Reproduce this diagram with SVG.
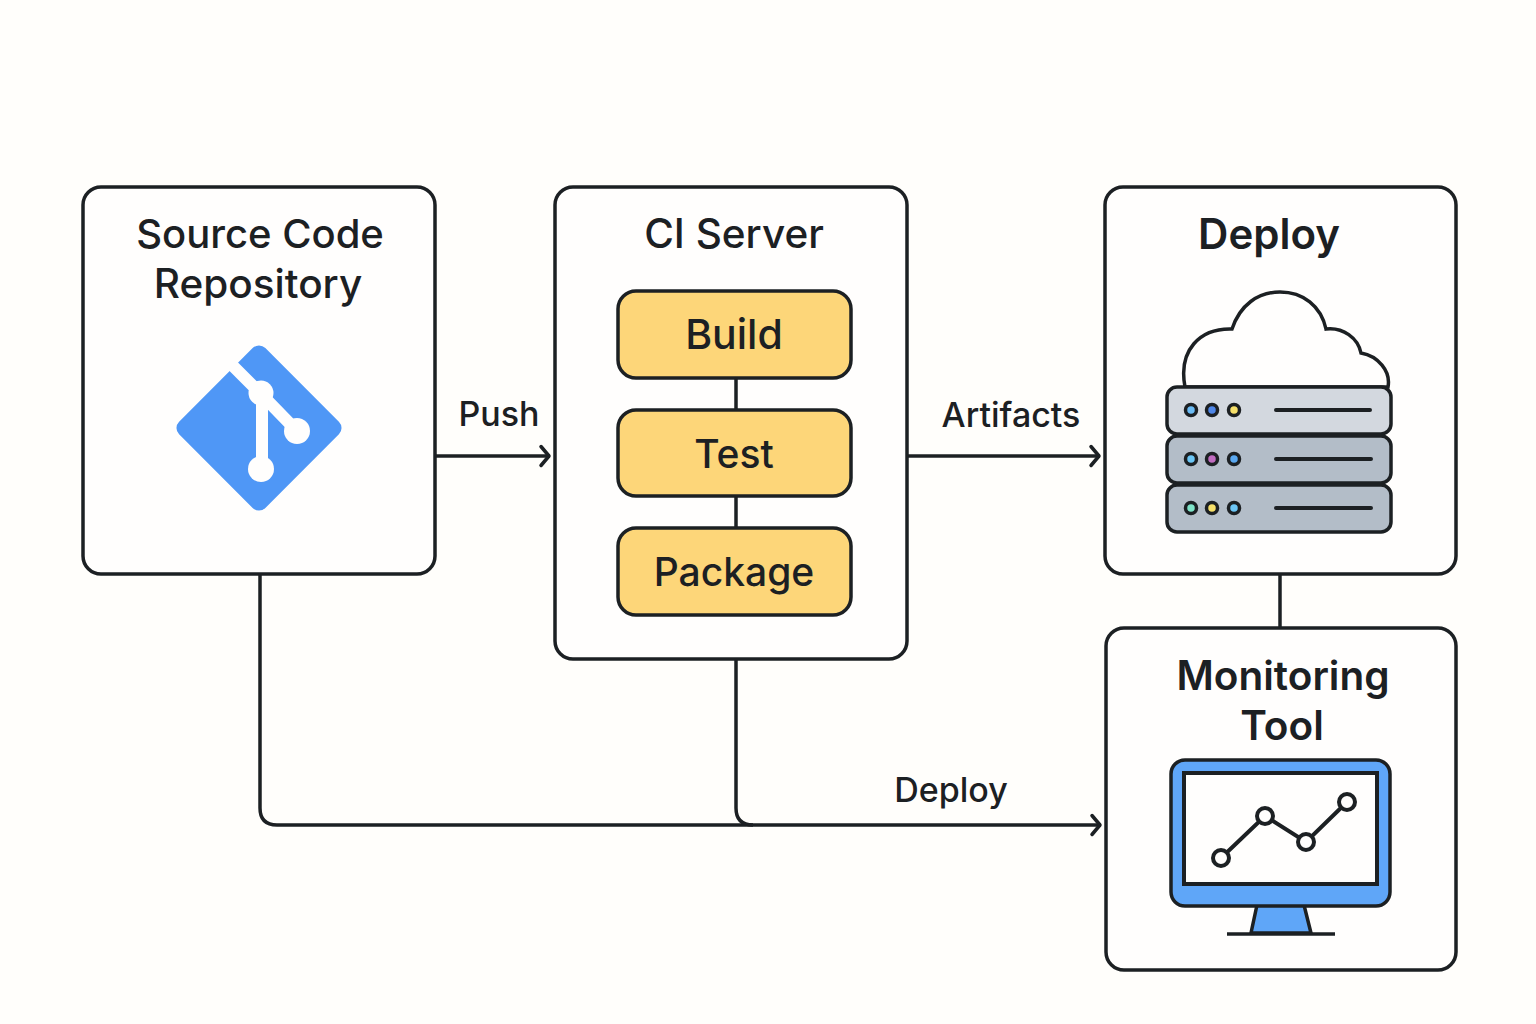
<svg xmlns="http://www.w3.org/2000/svg" width="1536" height="1024" viewBox="0 0 1536 1024">
<defs>
<marker id="arrow" markerUnits="userSpaceOnUse" markerWidth="20" markerHeight="24" refX="16" refY="12" orient="auto"><path d="M7 2.500L15 12L7 21.500" fill="none" stroke="#1c2023" stroke-width="3.500" stroke-linecap="round" stroke-linejoin="round"/></marker>
</defs>
<style>
text{font-family:"Inter","Liberation Sans",sans-serif;fill:#1c2023;text-anchor:middle;font-weight:500}
.t{font-size:40px}
.h{font-size:42px;font-weight:600}
.h2{font-size:40.500px;font-weight:600}
.s{font-size:39px}
.l{font-size:34px}
.box{fill:#fffefd;stroke:#1c2023;stroke-width:3.500}
.step{fill:#fdd679;stroke:#1c2023;stroke-width:3.500}
.c{fill:none;stroke:#1c2023;stroke-width:3.500}
.srv{stroke:#1c2023;stroke-width:3.500}
.bar{stroke:#1c2023;stroke-width:4;stroke-linecap:round}
.led{stroke:#1c2023;stroke-width:3.500}
.pt{fill:#fffefd;stroke:#1c2023;stroke-width:4}
</style>
<rect width="1536" height="1024" fill="#fffefb"/>
<g id="source-repo">
<rect class="box" x="83" y="187" width="352" height="387" rx="18"/>
<text class="t" x="260" y="248">Source Code</text>
<text class="t" x="258" y="298" style="font-size:40.500px">Repository</text>
<rect x="198" y="367" width="122" height="122" rx="9" transform="rotate(45 259 428)" fill="#4f97f6"/>
<path d="M233 366L262 395M262 395V470M262 395L297 431" fill="none" stroke="#fffefd" stroke-width="12"/>
<circle cx="261" cy="393" r="12.500" fill="#fffefd"/><circle cx="297" cy="431" r="13" fill="#fffefd"/><circle cx="261" cy="469" r="13" fill="#fffefd"/>
</g>
<g id="ci-server">
<rect class="box" x="555" y="187" width="352" height="472" rx="18"/>
<text class="t" x="734" y="248" style="font-size:40.500px">CI Server</text>
</g>
<g id="build"><rect class="step" x="618" y="291" width="233" height="87" rx="18"/><text class="s" x="734" y="349" style="font-size:41px">Build</text></g>
<g id="test"><rect class="step" x="618" y="410" width="233" height="86" rx="18"/><text class="s" x="734" y="468">Test</text></g>
<g id="package"><rect class="step" x="618" y="528" width="233" height="87" rx="18"/><text class="s" x="734" y="586">Package</text></g>
<g id="deploy">
<rect class="box" x="1105" y="187" width="351" height="387" rx="18"/>
<text class="h" x="1269" y="249">Deploy</text>
<path d="M1185 387C1178 350 1200 328 1232 329C1240 305 1258 292 1280 292C1303 292 1321 306 1326 329C1343 327 1358 338 1361 353C1378 356 1391 371 1388 387Z" fill="#fffefd" stroke="#1c2023" stroke-width="3.500"/>
<rect class="srv" x="1167" y="387" width="224" height="47" rx="10" fill="#d3d8df"/>
<rect class="srv" x="1167" y="436" width="224" height="47" rx="10" fill="#b3bdc8"/>
<rect class="srv" x="1167" y="485" width="224" height="47" rx="10" fill="#b3bdc8"/>
<path class="bar" d="M1276 410H1370M1276 459H1371M1276 508H1371"/>
<circle class="led" cx="1191" cy="410" r="5.500" fill="#6cbcf5"/><circle class="led" cx="1212" cy="410" r="5.500" fill="#4f87e8"/><circle class="led" cx="1234" cy="410" r="5.500" fill="#f6e06a"/>
<circle class="led" cx="1191" cy="459" r="5.500" fill="#6cc6f5"/><circle class="led" cx="1212" cy="459" r="5.500" fill="#c06cc0"/><circle class="led" cx="1234" cy="459" r="5.500" fill="#5aa8f0"/>
<circle class="led" cx="1191" cy="508" r="5.500" fill="#7fe3c8"/><circle class="led" cx="1212" cy="508" r="5.500" fill="#f6e06a"/><circle class="led" cx="1234" cy="508" r="5.500" fill="#6cc6f5"/>
</g>
<g id="monitoring">
<rect class="box" x="1106" y="628" width="350" height="342" rx="18"/>
<text class="h2" x="1283" y="690">Monitoring</text>
<text class="h2" x="1282" y="740">Tool</text>
<path d="M1257 905L1251 933H1311L1304 905Z" fill="#5fa6f8" stroke="#1c2023" stroke-width="3.500"/>
<path d="M1227 934H1335" stroke="#1c2023" stroke-width="3.500"/>
<rect x="1171" y="760" width="219" height="146" rx="14" fill="#5fa6f8" stroke="#1c2023" stroke-width="3.500"/>
<rect x="1184" y="773" width="193" height="111" fill="#fffefd" stroke="#1c2023" stroke-width="4"/>
<path d="M1221 858L1265 816L1306 842L1347 802" fill="none" stroke="#1c2023" stroke-width="4"/>
<circle class="pt" cx="1221" cy="858" r="8"/><circle class="pt" cx="1265" cy="816" r="8"/><circle class="pt" cx="1306" cy="842" r="8"/><circle class="pt" cx="1347" cy="802" r="8"/>
</g>
<g id="connectors">
<path class="c" d="M436 456H550" marker-end="url(#arrow)"/>
<path class="c" d="M908 456H1100" marker-end="url(#arrow)"/>
<path class="c" d="M260 574V808Q260 825 277 825H1101" marker-end="url(#arrow)"/>
<path class="c" d="M736 659V808Q736 825 753 825"/>
<path class="c" d="M736 378V410M736 496V528"/>
<path class="c" d="M1280 574V628"/>
</g>
<g id="labels">
<text class="l" x="499" y="426">Push</text>
<text class="l" x="1011" y="427">Artifacts</text>
<text class="l" x="951" y="802">Deploy</text>
</g>
</svg>
